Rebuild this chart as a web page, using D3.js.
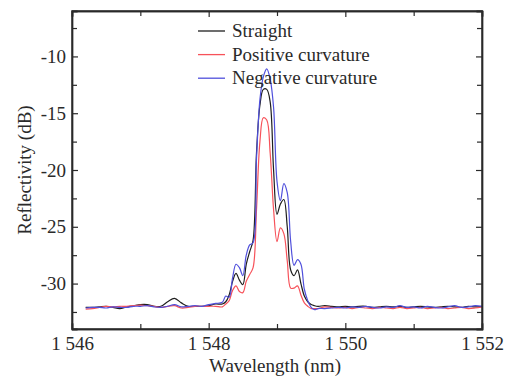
<!DOCTYPE html>
<html>
<head>
<meta charset="utf-8">
<script src="https://cdn.jsdelivr.net/npm/d3@7"></script>
<style>
  body { margin: 0; background: #fff; }
  text { font-family: "Liberation Serif", "Times New Roman", serif; fill: #2a2a2a; }
</style>
</head>
<body>
<div id="chart"></div>
<script>
// wavelength grid (nm): coarse on the baseline, finer across the grating peak
const wlLeft = [1546.2, 1546.3, 1546.4, 1546.5, 1546.6, 1546.7, 1546.8, 1546.9, 1547.0, 1547.1,
  1547.2, 1547.3, 1547.4, 1547.5, 1547.6, 1547.7, 1547.8, 1547.9, 1548.0, 1548.1, 1548.2];
const wlPeak = [1548.25, 1548.3, 1548.35, 1548.4, 1548.45, 1548.5, 1548.55, 1548.6, 1548.65, 1548.7,
  1548.75, 1548.8, 1548.85, 1548.9, 1548.95, 1549.0, 1549.05, 1549.1, 1549.15, 1549.2,
  1549.25, 1549.3, 1549.35, 1549.4, 1549.45, 1549.5, 1549.55, 1549.6];
const wlRight = [1549.7, 1549.8, 1549.9, 1550.0, 1550.1, 1550.2, 1550.3, 1550.4, 1550.5, 1550.6,
  1550.7, 1550.8, 1550.9, 1551.0, 1551.1, 1551.2, 1551.3, 1551.4, 1551.5, 1551.6,
  1551.7, 1551.8, 1551.9, 1552.0];
const wavelength = wlLeft.concat(wlPeak, wlRight);

// reflectivity (dB)
const straight = [
  -32.1, -32.1, -32.05, -32.0, -32.1, -32.2, -32.05, -31.95, -31.85, -31.85,
  -32.0, -32.0, -31.6, -31.3, -31.7, -32.0, -32.0, -32.0, -31.95, -31.8, -31.8,
  -31.6, -31.0, -29.8, -29.1, -29.7, -30.1, -28.3, -27.2, -26.2, -18.5,
  -14.3, -12.9, -12.9, -14.0, -20.0, -23.9, -23.0, -22.6, -25.0, -28.8,
  -29.3, -28.8, -30.0, -31.1, -31.6, -31.85, -31.95, -32.0,
  -31.95, -32.0, -32.05, -32.0, -32.05, -32.0, -32.0, -32.1, -32.05, -32.0,
  -32.05, -32.0, -32.1, -32.05, -32.0, -32.05, -32.1, -32.05, -32.0, -32.05,
  -32.1, -32.0, -32.05, -32.0];
const positive = [
  -32.25, -32.2, -32.1, -32.0, -32.05, -32.0, -32.0, -31.95, -31.9, -31.95,
  -32.0, -32.1, -32.0, -31.95, -32.15, -32.1, -32.0, -32.0, -32.0, -32.0, -32.05,
  -31.8, -31.5, -30.6, -30.2, -30.7, -30.8, -29.8, -29.2, -28.6, -23.5,
  -17.5, -15.4, -15.6, -18.5, -23.5, -26.3, -25.1, -25.6, -28.0, -30.4,
  -30.4, -30.2, -31.0, -31.7, -32.0, -32.2, -32.2, -32.2,
  -32.05, -32.1, -32.15, -32.1, -32.2, -32.1, -32.15, -32.2, -32.1, -32.15,
  -32.2, -32.1, -32.2, -32.15, -32.1, -32.2, -32.15, -32.1, -32.2, -32.15,
  -32.1, -32.2, -32.15, -32.05];
const negative = [
  -32.15, -32.1, -32.1, -32.15, -32.05, -32.1, -32.1, -32.0, -32.0, -31.95,
  -32.05, -32.1, -32.0, -31.85, -32.05, -32.0, -31.95, -32.0, -31.85, -31.75, -31.65,
  -31.1, -31.2, -29.5, -28.3, -28.6, -29.3, -27.5, -26.6, -26.4, -19.0,
  -13.8, -11.8, -11.1, -12.0, -14.5, -21.0, -22.7, -21.2, -22.0, -26.3,
  -28.4, -27.9, -28.3, -30.5, -31.5, -32.1, -32.3, -32.2,
  -32.2, -32.15, -32.1, -32.15, -32.05, -32.1, -32.0, -32.1, -32.15, -32.05,
  -32.1, -31.95, -32.1, -32.05, -32.15, -32.0, -32.1, -32.15, -32.05, -31.95,
  -32.1, -32.05, -31.95, -32.0];

const seriesNames = ["Straight", "Positive curvature", "Negative curvature"];
const seriesColors = ["#1e1e1e", "#f7525a", "#5050dc"];
const xTicks = [1546, 1548, 1550, 1552];
const xTickLabels = ["1 546", "1 548", "1 550", "1 552"];
const xMinor = [1547, 1549, 1551];
const yTicks = [-10, -15, -20, -25, -30];
const yTickLabels = ["-10", "-15", "-20", "-25", "-30"];
const yMinor = [-7.5, -12.5, -17.5, -22.5, -27.5, -32.5];

const width = 513, height = 379;
const margin = { top: 11, right: 31, bottom: 50, left: 72 };
const innerW = width - margin.left - margin.right;
const innerH = height - margin.top - margin.bottom;

const svg = d3.select("#chart").append("svg")
  .attr("width", width)
  .attr("height", height);

const g = svg.append("g")
  .attr("transform", "translate(" + margin.left + "," + margin.top + ")");

const x = d3.scaleLinear().domain([1546, 1552]).range([0, innerW]);
const y = d3.scaleLinear().domain([-34, -6]).range([innerH, 0]);

// curves
const line = d3.line()
  .x(d => x(d[0]))
  .y(d => y(d[1]))
  .curve(d3.curveCatmullRom.alpha(0.5));

[straight, positive, negative].forEach((vals, i) => {
  g.append("path")
    .datum(wavelength.map((w, k) => [w, vals[k]]))
    .attr("fill", "none")
    .attr("stroke", seriesColors[i])
    .attr("stroke-width", 1.2)
    .attr("stroke-linejoin", "round")
    .attr("d", line);
});

// axes: ticks pointing inward on all four sides
const axBottom = g.append("g")
  .attr("transform", "translate(0," + innerH + ")")
  .call(d3.axisBottom(x).tickValues(xTicks).tickSize(-6).tickPadding(8)
    .tickFormat((d, i) => xTickLabels[i]));
axBottom.append("g")
  .call(d3.axisBottom(x).tickValues(xMinor).tickSize(-5).tickFormat(""));

const axTop = g.append("g")
  .call(d3.axisTop(x).tickValues(xTicks).tickSize(-6).tickFormat(""));
axTop.append("g")
  .call(d3.axisTop(x).tickValues(xMinor).tickSize(-5).tickFormat(""));

const axLeft = g.append("g")
  .call(d3.axisLeft(y).tickValues(yTicks).tickSize(-6).tickPadding(6)
    .tickFormat((d, i) => yTickLabels[i]));
axLeft.append("g")
  .call(d3.axisLeft(y).tickValues(yMinor).tickSize(-5).tickFormat(""));

const axRight = g.append("g")
  .attr("transform", "translate(" + innerW + ",0)")
  .call(d3.axisRight(y).tickValues(yTicks).tickSize(-6).tickFormat(""));
axRight.append("g")
  .call(d3.axisRight(y).tickValues(yMinor).tickSize(-5).tickFormat(""));

g.selectAll(".domain").attr("stroke", "#2a2a2a").attr("stroke-width", 1.4);
g.selectAll(".tick line").attr("stroke", "#2a2a2a").attr("stroke-width", 1.2);
g.selectAll(".tick text")
  .style("font-family", '"Liberation Serif", "Times New Roman", serif')
  .style("font-size", "19px")
  .attr("fill", "#2a2a2a");

// frame
g.append("rect")
  .attr("width", innerW)
  .attr("height", innerH)
  .attr("fill", "none")
  .attr("stroke", "#2a2a2a")
  .attr("stroke-width", 1.4);

// axis titles
svg.append("text")
  .attr("x", margin.left + innerW / 2 - 2)
  .attr("y", 372)
  .attr("text-anchor", "middle")
  .style("font-size", "19px")
  .text("Wavelength (nm)");

svg.append("text")
  .attr("transform", "translate(31," + (margin.top + innerH / 2) + ") rotate(-90)")
  .attr("text-anchor", "middle")
  .style("font-size", "19px")
  .text("Reflectivity (dB)");

// legend
const legend = svg.append("g").attr("transform", "translate(198,31)");
seriesNames.forEach((name, i) => {
  const row = legend.append("g").attr("transform", "translate(0," + (i * 23.6) + ")");
  row.append("line")
    .attr("x1", 0).attr("x2", 27)
    .attr("stroke", seriesColors[i])
    .attr("stroke-width", 1.3);
  row.append("text")
    .attr("x", 34)
    .attr("dy", "0.32em")
    .style("font-size", "19px")
    .text(name);
});
</script>
</body>
</html>
